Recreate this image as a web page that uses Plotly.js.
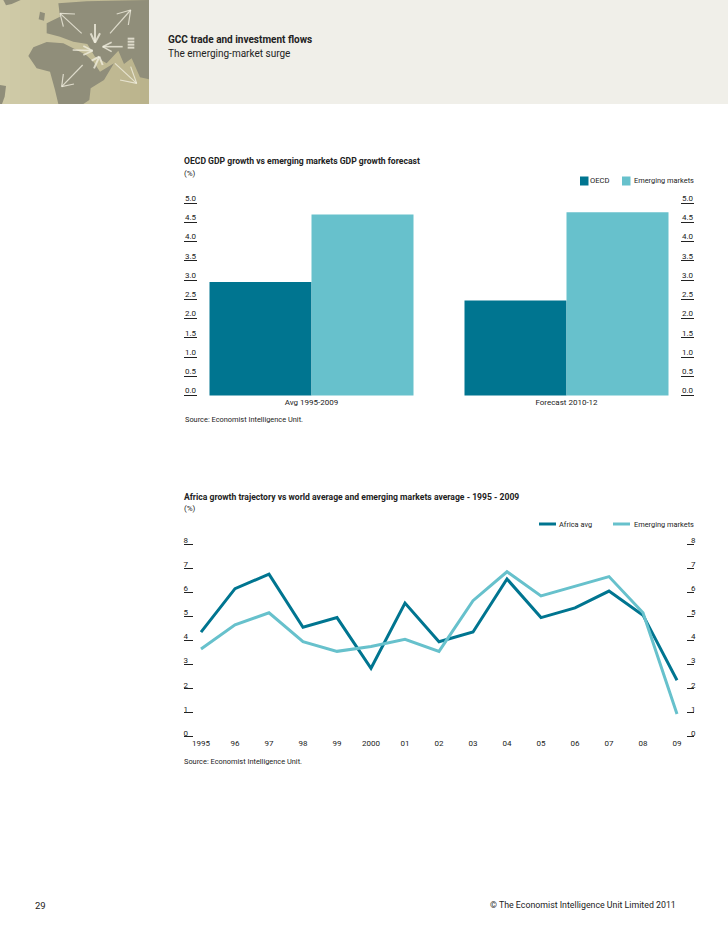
<!DOCTYPE html>
<html><head><meta charset="utf-8">
<script src="https://cdn.plot.ly/plotly-3.0.1.min.js"></script>
<style>html,body{margin:0;padding:0;background:#fff}#c{width:728px;height:936px}</style>
</head><body><div id="c"></div>
<script>
const barCategories = ['Avg 1995-2009', 'Forecast 2010-12'];
const barOECD = [2.95, 2.47];
const barEmerging = [4.7, 4.76];
const barTicks = [0, 0.5, 1, 1.5, 2, 2.5, 3, 3.5, 4, 4.5, 5];
const barTickText = ['0.0','0.5','1.0','1.5','2.0','2.5','3.0','3.5','4.0','4.5','5.0'];
const years = ['1995','96','97','98','99','2000','01','02','03','04','05','06','07','08','09'];
const africaAvg = [4.35, 6.15, 6.75, 4.55, 4.95, 2.85, 5.55, 3.95, 4.35, 6.55, 4.95, 5.35, 6.05, 5.05, 2.35];
const emergingAvg = [3.65, 4.65, 5.15, 3.95, 3.55, 3.75, 4.05, 3.55, 5.65, 6.85, 5.85, 6.25, 6.65, 5.15, 0.95];
const lineTicks = [0, 1, 2, 3, 4, 5, 6, 7, 8];

const W = 728, H = 936;
const DARK = '#007590', LIGHT = '#67c1cc', INK = '#222222';
const FONT = 'Roboto, "Open Sans", sans-serif';
const px = x => x / W, py = y => 1 - y / H;
const dom = (top, bottom) => [py(bottom), py(top)];

function poly(points, fill) {
  const d = points.map((p, i) => (i ? 'L' : 'M') + px(p[0] / 3) + ',' + py(p[1] / 3)).join(' ') + ' Z';
  return {type: 'path', xref: 'paper', yref: 'paper', path: d, fillcolor: fill, line: {width: 0}, layer: 'below'};
}
function rect(x0, y0, x1, y1, fill) {
  return {type: 'rect', xref: 'paper', yref: 'paper', x0: px(x0), x1: px(x1), y0: py(y1), y1: py(y0),
    fillcolor: fill, line: {width: 0}, layer: 'below'};
}
function stroke(a, b, c, d, w) {
  return {type: 'line', xref: 'paper', yref: 'paper', x0: px(a / 3), y0: py(b / 3), x1: px(c / 3), y1: py(d / 3),
    line: {color: 'rgba(240,238,222,0.8)', width: w || 1.2}, layer: 'below'};
}
const LAND = '#908e7a';
const strips = [];
for (let i = 0; i < 15; i++) {
  const t = i / 14;
  const c = [208 - 22 * t, 203 - 24 * t, 168 - 28 * t].map(Math.round);
  strips.push(rect(i * 10, 0, (i + 1) * 10 - (i === 14 ? 1 : 0), 104, 'rgb(' + c.join(',') + ')'));
}
function legendSwatch(x0, x1, y, h, color) { return rect(x0, y - h / 2, x1, y + h / 2, color); }
const shapes = [
  rect(149, 0, 728, 104, '#f0efe9'),
  ...strips,
  poly([[10,0],[62,0],[35,12],[18,16]], LAND),
  poly([[0,255],[18,258],[14,290],[6,312],[0,312]], LAND),
  poly([[120,35],[135,40],[132,62],[116,58]], LAND),
  poly([[85,168],[100,142],[140,126],[190,130],[230,150],[258,165],[280,185],[300,215],[342,190],[312,240],[272,265],[268,300],[250,312],[175,312],[165,270],[150,215],[110,205]], LAND),
  poly([[175,10],[260,4],[447,0],[447,238],[420,232],[395,175],[372,192],[355,152],[320,190],[285,170],[262,132],[220,125],[180,110],[140,100],[140,70],[180,50]], LAND),
  stroke(180,40,245,100), stroke(180,40,225,42), stroke(180,40,190,80),
  stroke(330,100,392,30), stroke(392,30,350,42), stroke(392,30,385,75),
  stroke(285,72,285,128,2), stroke(285,128,272,100,2), stroke(285,128,300,100,2),
  stroke(218,150,278,152,1.6), stroke(278,152,250,138,1.6), stroke(278,152,250,165,1.6),
  stroke(368,140,308,140,1.6), stroke(308,140,335,127,1.6), stroke(308,140,335,155,1.6),
  stroke(282,205,298,170,2), stroke(298,170,275,182,2), stroke(298,170,308,195,2),
  stroke(345,190,410,250), stroke(410,250,360,240), stroke(410,250,392,200),
  stroke(248,195,185,260), stroke(185,260,190,222), stroke(185,260,222,252),
  stroke(383,116,403,116,2), stroke(383,125,403,125,2), stroke(383,134,403,134,2), stroke(383,143,403,143,2),
  legendSwatch(580, 588.5, 181, 9, DARK),
  legendSwatch(622, 630.5, 181, 9, LIGHT),
  legendSwatch(539, 556, 524, 3, DARK),
  legendSwatch(613, 630, 524, 3, LIGHT)
];
function note(text, x, y, size, bold, anchor) {
  return {xref: 'paper', yref: 'paper', x: px(x), y: py(y), text: bold ? '<b>' + text + '</b>' : text,
    showarrow: false, xanchor: anchor || 'left', yanchor: 'middle',
    font: {family: FONT, size: size, color: INK}, borderpad: 0, borderwidth: 0};
}
const annotations = [
  note('GCC trade and investment flows', 168, 40, 10, true),
  note('The emerging-market surge', 168, 53, 10, false),
  note('OECD GDP growth vs emerging markets GDP growth forecast', 184, 161, 8.6, true),
  note('(%)', 184, 173, 8, false),
  note('OECD', 590, 181, 7.6, false),
  note('Emerging markets', 694, 181, 7.4, false, 'right'),
  note('Source: Economist Intelligence Unit.', 185, 420, 7.4, false),
  note('Africa growth trajectory vs world average and emerging markets average - 1995 - 2009', 184, 497, 8.6, true),
  note('(%)', 184, 509, 8, false),
  note('Africa avg', 559, 524, 7.4, false),
  note('Emerging markets', 694, 524, 7.4, false, 'right'),
  note('Source: Economist Intelligence Unit.', 184, 761, 7.4, false),
  note('29', 35, 905, 9.5, false),
  note('© The Economist Intelligence Unit Limited 2011', 676, 905, 8.8, false, 'right')
];
const tickFont = {family: FONT, size: 8, color: INK};
function yAxis(domain, range, vals, text, side, len, standoff, shift, overlay) {
  const a = {domain, range, tickmode: 'array', tickvals: vals, ticktext: text, side,
    ticks: 'inside', ticklen: len, tickcolor: INK, tickwidth: 1,
    ticklabelposition: 'outside', ticklabelshift: shift, ticklabelstandoff: standoff,
    showgrid: false, zeroline: false, showline: false, tickfont: tickFont, fixedrange: true};
  if (overlay) { a.overlaying = overlay; a.anchor = overlay === 'y' ? 'x' : 'x2'; }
  return a;
}
const xDom = [px(184), px(694)];
const barDomain = dom(200.5, 398), barRange = [-0.065, 5.065];
const lineDomain = dom(541.5, 739.5), lineRange = [-0.104, 8.104];
const traces = [
  {type: 'bar', name: 'OECD', x: barCategories, y: barOECD, marker: {color: DARK}, xaxis: 'x', yaxis: 'y'},
  {type: 'bar', name: 'Emerging markets', x: barCategories, y: barEmerging, marker: {color: LIGHT}, xaxis: 'x', yaxis: 'y'},
  {type: 'scatter', mode: 'none', x: barCategories, y: barOECD, xaxis: 'x', yaxis: 'y2', hoverinfo: 'skip'},
  {type: 'scatter', mode: 'lines', name: 'Africa avg', x: years, y: africaAvg, line: {color: DARK, width: 3}, xaxis: 'x2', yaxis: 'y3'},
  {type: 'scatter', mode: 'lines', name: 'Emerging markets', x: years, y: emergingAvg, line: {color: LIGHT, width: 3}, xaxis: 'x2', yaxis: 'y3'},
  {type: 'scatter', mode: 'none', x: years, y: africaAvg, xaxis: 'x2', yaxis: 'y4', hoverinfo: 'skip'}
];
const layout = {
  width: W, height: H, margin: {l: 0, r: 0, t: 0, b: 0}, paper_bgcolor: '#fff', plot_bgcolor: 'rgba(0,0,0,0)',
  showlegend: false, barmode: 'group', bargap: 0.2, bargroupgap: 0, shapes, annotations,
  font: {family: FONT, size: 8, color: INK},
  xaxis: {domain: xDom, anchor: 'y', type: 'category', range: [-0.5, 1.5], ticks: '', showgrid: false, zeroline: false, showline: false, tickfont: tickFont, ticklabelstandoff: -2},
  yaxis: yAxis(barDomain, barRange, barTicks, barTickText, 'left', 13, -13, -5),
  yaxis2: yAxis(barDomain, barRange, barTicks, barTickText, 'right', 13, -13, -5, 'y'),
  xaxis2: {domain: xDom, anchor: 'y3', type: 'category', range: [-0.5, 14.5], ticks: '', showgrid: false, zeroline: false, showline: false, tickfont: tickFont, ticklabelstandoff: -3},
  yaxis3: yAxis(lineDomain, lineRange, lineTicks, lineTicks.map(String), 'left', 9, -5, -4),
  yaxis4: yAxis(lineDomain, lineRange, lineTicks, lineTicks.map(String), 'right', 7, -4, -4, 'y3')
};
Plotly.newPlot('c', traces, layout, {displayModeBar: false, staticPlot: true});
</script></body></html>
